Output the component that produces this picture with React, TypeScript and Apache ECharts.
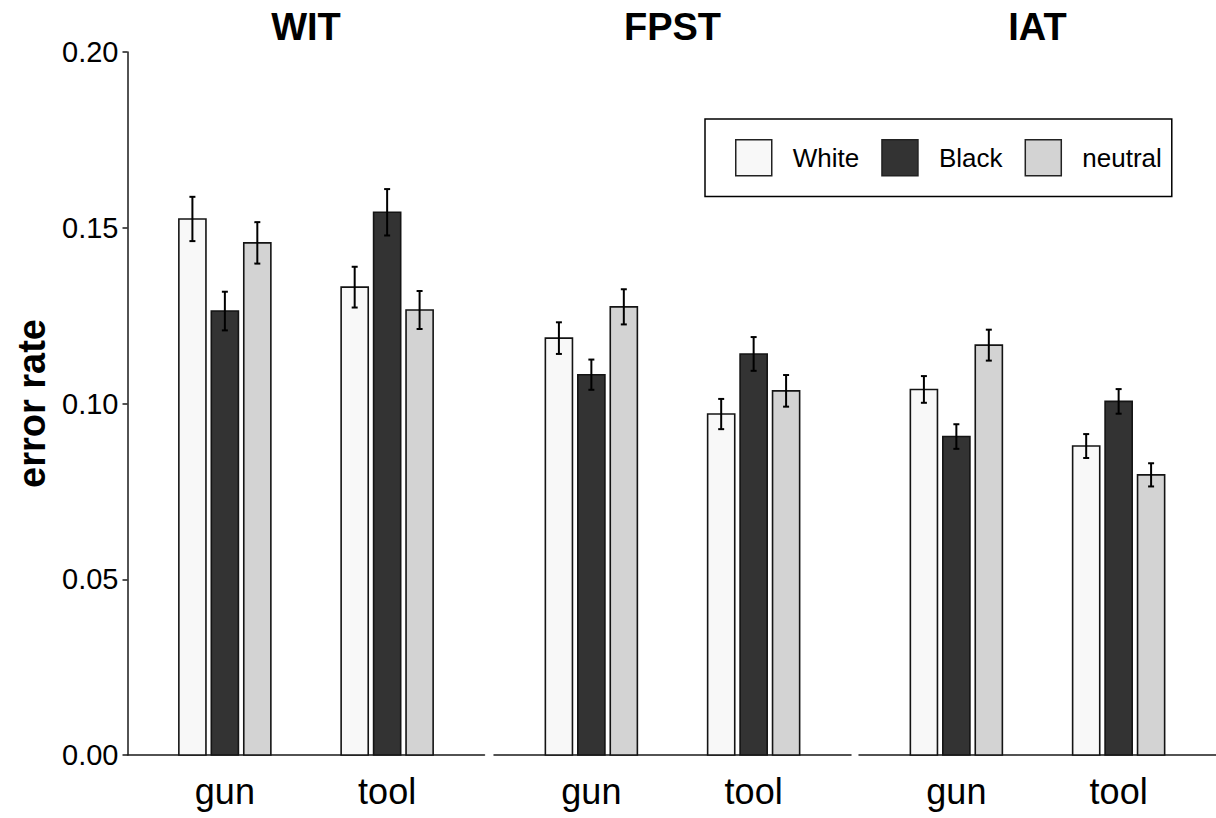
import React, { useEffect, useRef } from 'react';
import * as echarts from 'echarts';

const panels = ['WIT', 'FPST', 'IAT'];
const categories = ['gun', 'tool'];
const groups = ['White', 'Black', 'neutral'];
const groupColors = ['#f8f8f8', '#333333', '#d3d3d3'];
const yTicks = [0, 0.05, 0.1, 0.15, 0.2];

// means [gun, tool] and standard errors [gun, tool]
const witWhite = [0.1525, 0.1331];
const witBlack = [0.1263, 0.1544];
const witNeutral = [0.1457, 0.1266];
const witWhiteErr = [0.0063, 0.0058];
const witBlackErr = [0.0055, 0.0066];
const witNeutralErr = [0.0059, 0.0054];

const fpstWhite = [0.1186, 0.097];
const fpstBlack = [0.1082, 0.1141];
const fpstNeutral = [0.1275, 0.1036];
const fpstWhiteErr = [0.0045, 0.0043];
const fpstBlackErr = [0.0043, 0.0048];
const fpstNeutralErr = [0.005, 0.0045];

const iatWhite = [0.104, 0.0879];
const iatBlack = [0.0906, 0.1006];
const iatNeutral = [0.1166, 0.0797];
const iatWhiteErr = [0.0038, 0.0034];
const iatBlackErr = [0.0035, 0.0035];
const iatNeutralErr = [0.0044, 0.0033];

const meansByPanel = [
  [witWhite, witBlack, witNeutral],
  [fpstWhite, fpstBlack, fpstNeutral],
  [iatWhite, iatBlack, iatNeutral],
];
const errsByPanel = [
  [witWhiteErr, witBlackErr, witNeutralErr],
  [fpstWhiteErr, fpstBlackErr, fpstNeutralErr],
  [iatWhiteErr, iatBlackErr, iatNeutralErr],
];

export default function App() {
  const ref = useRef<HTMLDivElement>(null);
  useEffect(() => {
    const chart = echarts.init(ref.current!, null, { renderer: 'svg' });
    const font = "'Liberation Sans', Arial, sans-serif";
    const gridLefts = [127.5, 494, 859];
    const gridWidth = 357;
    const gridTop = 52;
    const gridHeight = 703;
    const axisColor = '#1a1a1a';
    const dodge = 0.2;
    const barW = 0.167;

    const grids = gridLefts.map((l) => ({ left: l, width: gridWidth, top: gridTop, height: gridHeight }));

    const xAxes = panels.map((p, i) => ({
      type: 'value',
      gridIndex: i,
      min: 0.4,
      max: 2.6,
      axisLine: { show: true, onZero: false, lineStyle: { color: axisColor, width: 1.5 } },
      axisTick: { show: false },
      splitLine: { show: false },
      axisLabel: {
        customValues: [1, 2],
        formatter: (v: number) => categories[Math.round(v) - 1] ?? '',
        fontSize: 36,
        color: '#000',
        fontFamily: font,
        margin: 18,
      },
    }));

    const yAxes = panels.map((p, i) => ({
      type: 'value',
      gridIndex: i,
      min: yTicks[0],
      max: yTicks[yTicks.length - 1],
      interval: 0.05,
      show: i === 0,
      axisLine: { show: true, onZero: false, lineStyle: { color: axisColor, width: 1.5 } },
      axisTick: { show: true, length: 5, lineStyle: { color: axisColor, width: 1.5 } },
      splitLine: { show: false },
      axisLabel: {
        formatter: (v: number) => v.toFixed(2),
        fontSize: 29,
        margin: 9,
        color: '#000',
        fontFamily: font,
      },
      name: i === 0 ? 'error rate' : '',
      nameLocation: 'middle',
      nameRotate: 90,
      nameGap: 77,
      nameTextStyle: { fontSize: 38, fontWeight: 'bold', color: '#000', fontFamily: font },
    }));

    const series: any[] = [];
    panels.forEach((p, i) => {
      groups.forEach((gName, g) => {
        const means = meansByPanel[i][g];
        const errs = errsByPanel[i][g];
        series.push({
          type: 'custom',
          name: gName,
          xAxisIndex: i,
          yAxisIndex: i,
          itemStyle: { color: groupColors[g] },
          encode: { x: 0, y: 1 },
          data: categories.map((c, k) => [k + 1, means[k], errs[k]]),
          renderItem: (params: any, api: any) => {
            const cx = api.value(0) + (g - 1) * dodge;
            const v = api.value(1);
            const e = api.value(2);
            const p0 = api.coord([cx - barW / 2, v]);
            const p1 = api.coord([cx + barW / 2, 0]);
            const pc = api.coord([cx, v]);
            const top = api.coord([cx, v + e])[1];
            const bot = api.coord([cx, v - e])[1];
            const x = pc[0];
            const ls = { stroke: '#000', lineWidth: 2 };
            return {
              type: 'group',
              children: [
                {
                  type: 'rect',
                  shape: { x: p0[0], y: p0[1], width: p1[0] - p0[0], height: p1[1] - p0[1] },
                  style: { fill: groupColors[g], stroke: '#141414', lineWidth: 1.6 },
                },
                { type: 'line', shape: { x1: x, y1: top, x2: x, y2: bot }, style: ls },
                { type: 'line', shape: { x1: x - 3, y1: top, x2: x + 3, y2: top }, style: ls },
                { type: 'line', shape: { x1: x - 3, y1: bot, x2: x + 3, y2: bot }, style: ls },
              ],
            };
          },
        });
      });
    });

    const titles = panels.map((p, i) => ({
      type: 'text',
      x: gridLefts[i] + gridWidth / 2,
      y: 27,
      style: {
        text: p,
        fill: '#000',
        font: `bold 38px ${font}`,
        textAlign: 'center',
        textVerticalAlign: 'middle',
      },
    }));

    chart.setOption({
      animation: false,
      backgroundColor: '#ffffff',
      grid: grids,
      xAxis: xAxes,
      yAxis: yAxes,
      series,
      graphic: titles,
      legend: {
        data: groups,
        left: 705,
        top: 119,
        orient: 'horizontal',
        itemWidth: 36,
        itemHeight: 36,
        itemGap: 22,
        icon: 'rect',
        selectedMode: false,
        padding: [20, 10, 20, 30],
        borderColor: '#000',
        borderWidth: 1.5,
        borderRadius: 0,
        itemStyle: { borderColor: '#222', borderWidth: 1.5 },
        textStyle: { fontSize: 26, color: '#000', fontFamily: font, padding: [0, 0, 0, 16] },
      },
    });
    return () => chart.dispose();
  }, []);
  return (
    <div
      ref={ref}
      style={{ position: 'absolute', left: 0, top: 0, width: 1216, height: 818, background: '#fff' }}
    />
  );
}
